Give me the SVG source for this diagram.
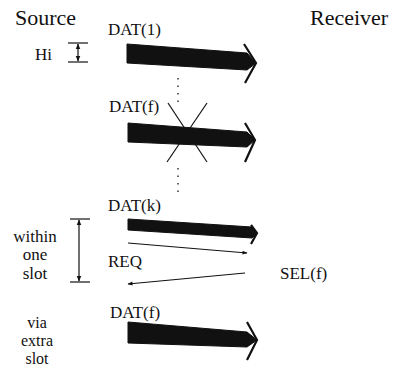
<svg xmlns="http://www.w3.org/2000/svg" width="398" height="367" viewBox="0 0 398 367">
<defs>
<style>
text{font-family:'Liberation Serif','Times New Roman',serif;fill:#111}
.h{font-size:22px}
.l{font-size:17px}
.s{font-size:16px}
.body{fill:#111;stroke:#111;stroke-width:1;stroke-linejoin:round}
.chev{fill:none;stroke:#111;stroke-width:2.2;stroke-linejoin:miter}
.thin{fill:none;stroke:#111;stroke-width:1.2}
.dot{fill:none;stroke:#333;stroke-width:1.5;stroke-dasharray:1.5 6}
</style>
<marker id="ah" viewBox="0 0 10 10" refX="9" refY="5" markerWidth="7" markerHeight="5" orient="auto" markerUnits="userSpaceOnUse">
<path d="M0,1 L10,5 L0,9 z" fill="#111"/>
</marker>
<marker id="dh" viewBox="0 0 10 10" refX="9" refY="5" markerWidth="6" markerHeight="6" orient="auto-start-reverse" markerUnits="userSpaceOnUse">
<path d="M0,1 L10,5 L0,9 z" fill="#111"/>
</marker>
</defs>

<g id="source"><text class="h" x="15" y="25">Source</text></g>
<g id="receiver"><text class="h" x="310" y="25">Receiver</text></g>

<g id="hi-marker">
<text class="l" x="35" y="60">Hi</text>
<line class="thin" x1="68" y1="43" x2="88" y2="43"/>
<line class="thin" x1="68" y1="62" x2="88" y2="62"/>
<line class="thin" x1="78" y1="44" x2="78" y2="61" marker-start="url(#dh)" marker-end="url(#dh)"/>
</g>

<g id="slot-marker">
<text class="l" x="35" y="242" text-anchor="middle">within</text>
<text class="l" x="35" y="260" text-anchor="middle">one</text>
<text class="l" x="35" y="279" text-anchor="middle">slot</text>
<line class="thin" x1="70" y1="219" x2="90" y2="219"/>
<line class="thin" x1="70" y1="282" x2="90" y2="282"/>
<line class="thin" x1="79" y1="220" x2="79" y2="281" marker-start="url(#dh)" marker-end="url(#dh)"/>
</g>

<g id="extra-slot">
<text class="s" x="37" y="328" text-anchor="middle">via</text>
<text class="s" x="37" y="346" text-anchor="middle">extra</text>
<text class="s" x="37" y="364" text-anchor="middle">slot</text>
</g>

<g id="labels">
<text class="l" x="108" y="35">DAT(1)</text>
<text class="l" x="109" y="112">DAT(f)</text>
<text class="l" x="108" y="211">DAT(k)</text>
<text class="l" x="108" y="267">REQ</text>
<text class="l" x="280" y="279">SEL(f)</text>
<text class="l" x="110" y="318">DAT(f)</text>
</g>

<g id="connectors">
<g id="dat1">
<polygon class="body" points="127,44 247,53 256,63 247,70 127,63"/>
<polyline class="chev" points="244,44 256,63 245,83"/>
</g>
<line class="dot" x1="178" y1="78" x2="178" y2="103"/>
<g id="datf-lost">
<polygon class="body" points="128,123 247,132 255,140 247,147 128,142"/>
<polyline class="chev" points="245,123 255,140 245,162"/>
<line class="thin" x1="168" y1="103" x2="207" y2="162"/>
<line class="thin" x1="207" y1="103" x2="167" y2="162"/>
</g>
<line class="dot" x1="178" y1="168" x2="178" y2="193"/>
<g id="datk">
<polygon class="body" points="128,219 252,227 257,233 252,238 128,230"/>
<polyline class="chev" points="251,225 257,233 251,244"/>
</g>
<line id="req" class="thin" x1="128" y1="243" x2="247" y2="253" marker-end="url(#ah)"/>
<line id="sel" class="thin" x1="245" y1="273" x2="128" y2="284" marker-end="url(#ah)"/>
<g id="datf-retx">
<polygon class="body" points="128,322 247,332 257,340 247,347 128,343"/>
<polyline class="chev" points="247,322 257,340 247,360"/>
</g>
</g>
</svg>
